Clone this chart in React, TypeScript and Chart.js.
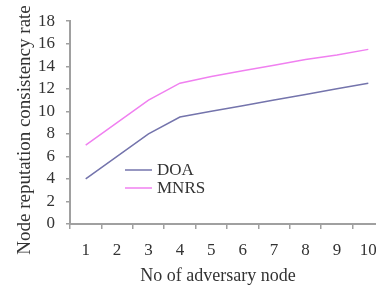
import React, { useEffect, useRef } from "react";
import { Chart, registerables } from "chart.js";

Chart.register(...registerables);

const categories = ["1", "2", "3", "4", "5", "6", "7", "8", "9", "10"];
const doaValues = [4, 6, 8, 9.5, 10, 10.5, 11, 11.5, 12, 12.5];
const mnrsValues = [7, 9, 11, 12.5, 13.1, 13.6, 14.1, 14.6, 15, 15.5];
const seriesNames = ["DOA", "MNRS"];
const seriesColors = ["#7474ac", "#f080f0"];
const xTitle = "No of adversary node";
const yTitle = "Node reputation consistency rate";

const FONT = "'Liberation Serif', 'Times New Roman', serif";
const TEXT = "#333333";
const AXIS = "#a0a0a0";

const overlayPlugin = {
  id: "overlay",
  afterDraw(chart: any) {
    const ctx = chart.ctx;
    ctx.save();
    ctx.fillStyle = TEXT;
    // x title
    ctx.font = `18px ${FONT}`;
    ctx.textAlign = "center";
    ctx.textBaseline = "middle";
    ctx.fillText(xTitle, 218, 276);
    // y title
    ctx.save();
    ctx.font = `19px ${FONT}`;
    ctx.translate(25, 130);
    ctx.rotate(-Math.PI / 2);
    ctx.fillText(yTitle, 0, 0);
    ctx.restore();
    // legend
    const ys = [170, 188];
    ctx.font = `17px ${FONT}`;
    ctx.textAlign = "left";
    seriesNames.forEach((name, i) => {
      ctx.strokeStyle = seriesColors[i];
      ctx.lineWidth = 1.5;
      ctx.beginPath();
      ctx.moveTo(125, ys[i]);
      ctx.lineTo(152, ys[i]);
      ctx.stroke();
      ctx.fillStyle = TEXT;
      ctx.fillText(name, 157, ys[i] + 1);
    });
    ctx.restore();
  },
};

export default function App() {
  const ref = useRef<HTMLCanvasElement>(null);
  useEffect(() => {
    const canvas = ref.current!;
    const chart = new Chart(canvas, {
      type: "line",
      data: {
        labels: categories,
        datasets: [
          {
            label: seriesNames[0],
            data: doaValues,
            borderColor: seriesColors[0],
            borderWidth: 1.5,
            pointRadius: 0,
            tension: 0,
            fill: false,
          },
          {
            label: seriesNames[1],
            data: mnrsValues,
            borderColor: seriesColors[1],
            borderWidth: 1.5,
            pointRadius: 0,
            tension: 0,
            fill: false,
          },
        ],
      },
      options: {
        animation: false,
        responsive: false,
        devicePixelRatio: 1,
        layout: { padding: { left: 0, right: 8, top: 20, bottom: 0 } },
        plugins: { legend: { display: false }, tooltip: { enabled: false } },
        scales: {
          x: {
            type: "category",
            offset: true,
            grid: {
              offset: true,
              drawOnChartArea: false,
              drawTicks: true,
              tickLength: 5,
              color: AXIS,
              lineWidth: 1.5,
            },
            border: { display: true, color: AXIS, width: 2 },
            ticks: {
              padding: 11,
              color: TEXT,
              font: { family: FONT, size: 17 },
              maxRotation: 0,
              autoSkip: false,
            },
            afterFit: (s: any) => {
              s.height = 64;
            },
          },
          y: {
            min: 0,
            max: 18,
            ticks: {
              stepSize: 2,
              autoSkip: false,
              padding: 11,
              color: TEXT,
              font: { family: FONT, size: 17 },
            },
            grid: {
              drawOnChartArea: false,
              drawTicks: true,
              tickLength: 4,
              color: AXIS,
              lineWidth: 1.5,
            },
            border: { display: true, color: AXIS, width: 2 },
            afterFit: (s: any) => {
              s.width = 70;
            },
          },
        },
      },
      plugins: [overlayPlugin],
    });
    return () => chart.destroy();
  }, []);
  return (
    <div
      style={{
        position: "fixed",
        left: 0,
        top: 0,
        width: 376,
        height: 288,
        overflow: "hidden",
        background: "#ffffff",
      }}
    >
      <canvas
        ref={ref}
        width={392}
        height={288}
        style={{ display: "block", width: 392, height: 288 }}
      />
    </div>
  );
}
